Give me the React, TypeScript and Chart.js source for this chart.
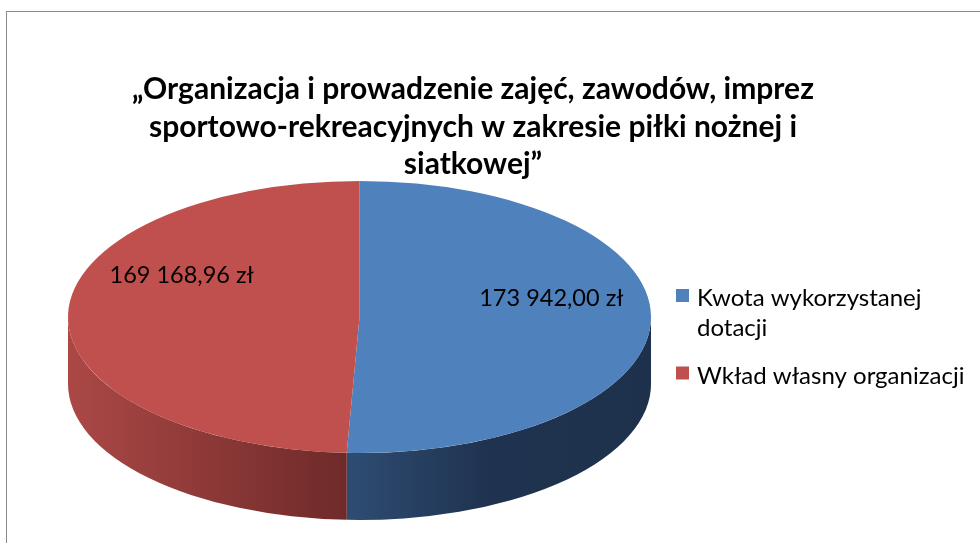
import React, { useEffect, useRef } from 'react';
import { Chart, registerables } from 'chart.js';

Chart.register(...registerables);

// ---- data ----
const categories = ['Kwota wykorzystanej dotacji', 'Wkład własny organizacji'];
const values = [173942.0, 169168.96];
const titleLines = [
  '„Organizacja i prowadzenie zajęć, zawodów, imprez',
  'sportowo-rekreacyjnych w zakresie piłki nożnej i',
  'siatkowej”',
];

// ---- style ----
const sliceColors = ['#4F81BD', '#C0504D'];
const wallStops: [number, string][][] = [
  [[0, '#2f4d74'], [0.47, '#2f4d74'], [0.72, '#1f3350'], [1, '#1e314c']],
  [[0, '#ab4846'], [0.48, '#6e2a29'], [1, '#6e2a29']],
];
const W = 980;
const H = 543;
const CX = 359.5;
const CY = 317;
const RY = 136;
const RX = 291.5;
const DEPTH = 67;
const K = RX / RY;
const FONT = 'Lato, "Open Sans", sans-serif';
const labelFrac = 0.6;
const labelShift: [number, number][] = [[17, -13], [-3, -32]];

function formatPLN(v: number): string {
  const [i, d] = v.toFixed(2).split('.');
  return i.replace(/\B(?=(\d{3})+(?!\d))/g, ' ') + ',' + d + ' zł';
}

function wrap(ctx: CanvasRenderingContext2D, text: string, maxW: number): string[] {
  const words = text.split(' ');
  const lines: string[] = [];
  let cur = '';
  for (const w of words) {
    const t = cur ? cur + ' ' + w : w;
    if (ctx.measureText(t).width > maxW && cur) {
      lines.push(cur);
      cur = w;
    } else cur = t;
  }
  if (cur) lines.push(cur);
  return lines;
}

const pie3d = {
  id: 'pie3d',
  beforeDatasetsDraw(chart: any) {
    const ctx: CanvasRenderingContext2D = chart.ctx;
    const meta = chart.getDatasetMeta(0);
    const first = meta.data[0];
    if (!first) return;
    const cx = first.x;
    ctx.save();
    ctx.translate(cx, 0);
    ctx.scale(K, 1);
    ctx.translate(-cx, 0);
    meta.data.forEach((arc: any, i: number) => {
      const { x, y, startAngle, endAngle, outerRadius: r } = arc.getProps(['x', 'y', 'startAngle', 'endAngle', 'outerRadius'], true);
      const a = Math.max(startAngle, 0);
      const b = Math.min(endAngle, Math.PI);
      if (a >= b) return;
      const g = ctx.createLinearGradient(x - r, 0, x + r, 0);
      wallStops[i].forEach(([p, c]) => g.addColorStop(p, c));
      ctx.beginPath();
      ctx.arc(x, y, r, a, b);
      ctx.arc(x, y + DEPTH, r, b, a, true);
      ctx.closePath();
      ctx.fillStyle = g;
      ctx.fill();
    });
  },
  afterDatasetsDraw(chart: any) {
    const ctx: CanvasRenderingContext2D = chart.ctx;
    ctx.restore();
    const meta = chart.getDatasetMeta(0);
    ctx.save();
    ctx.fillStyle = '#000';
    ctx.font = `23.5px ${FONT}`;
    ctx.textAlign = 'center';
    ctx.textBaseline = 'alphabetic';
    meta.data.forEach((arc: any, i: number) => {
      const { x, y, startAngle, endAngle, outerRadius: r } = arc.getProps(['x', 'y', 'startAngle', 'endAngle', 'outerRadius'], true);
      const m = (startAngle + endAngle) / 2;
      const lx = x + K * labelFrac * r * Math.cos(m) + labelShift[i][0];
      const ly = y + labelFrac * r * Math.sin(m) + labelShift[i][1];
      ctx.fillText(formatPLN(chart.data.datasets[0].data[i]), lx, ly);
    });
    ctx.restore();
  },
  afterDraw(chart: any) {
    const ctx: CanvasRenderingContext2D = chart.ctx;
    ctx.save();
    // title
    ctx.fillStyle = '#000';
    ctx.font = `bold 30px ${FONT}`;
    ctx.textAlign = 'center';
    ctx.textBaseline = 'alphabetic';
    titleLines.forEach((t, i) => ctx.fillText(t, 473, 99 + i * 37.5));
    // legend
    ctx.font = `24px ${FONT}`;
    ctx.textAlign = 'left';
    let base = 306;
    chart.data.labels.forEach((lab: string, i: number) => {
      const lines = wrap(ctx, lab, 278);
      ctx.fillStyle = sliceColors[i];
      ctx.fillRect(676, base - 17, 13, 13);
      ctx.fillStyle = '#000';
      lines.forEach((ln, j) => ctx.fillText(ln, 697, base + j * 29.5));
      base += lines.length * 29.5 + 18.5;
    });
    ctx.restore();
  },
};

export default function App() {
  const ref = useRef<HTMLCanvasElement>(null);
  useEffect(() => {
    if (!ref.current) return;
    const chart = new Chart(ref.current, {
      type: 'pie',
      data: {
        labels: categories,
        datasets: [
          {
            data: values,
            backgroundColor: sliceColors,
            borderWidth: 0,
            clip: false as any,
          },
        ],
      },
      options: {
        responsive: false,
        animation: false,
        events: [],
        layout: {
          padding: { left: CX - RY, right: W - (CX + RY), top: CY - RY, bottom: H - (CY + RY) },
        },
        plugins: {
          legend: { display: false },
          title: { display: false },
          tooltip: { enabled: false },
        },
      },
      plugins: [pie3d],
    });
    return () => chart.destroy();
  }, []);
  return (
    <div style={{ position: 'fixed', left: 0, top: 0, width: W, height: H, background: '#fff', overflow: 'hidden' }}>
      <div
        style={{
          position: 'absolute',
          left: 6,
          top: 11,
          width: 1200,
          height: 800,
          borderLeft: '1.5px solid #8a8a8a',
          borderTop: '1.5px solid #8a8a8a',
        }}
      />
      <canvas ref={ref} width={W} height={H} style={{ position: 'absolute', left: 0, top: 0, width: W, height: H }} />
    </div>
  );
}
